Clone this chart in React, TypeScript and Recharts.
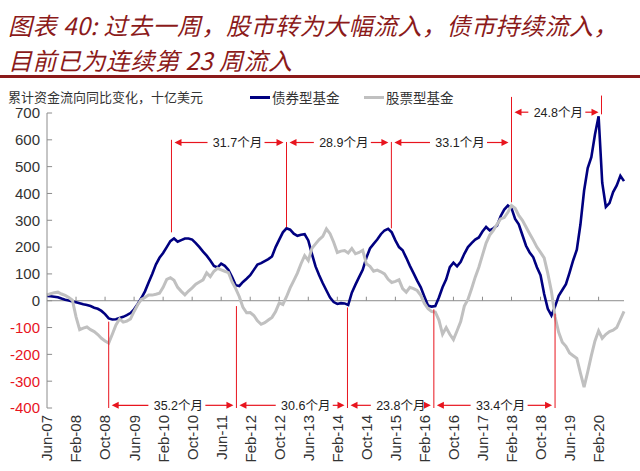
import React from "react";
import { LineChart, Line, XAxis, YAxis, ReferenceLine } from "recharts";

// 累计资金流向同比变化（十亿美元），按月读数，Jun-07 起
const bondValues = [
  18, 17, 15, 13, 8, 4, 1, -3, -6, -9,
  -13, -16, -20, -26, -30, -38, -50, -66, -70, -69,
  -64, -60, -54, -46, -32, -12, 10, 35, 68, 100,
  135, 160, 178, 200, 222, 232, 220, 226, 232, 232,
  228, 215, 200, 183, 168, 150, 130, 124, 138, 130,
  115, 88, 58, 55, 70, 82, 95, 115, 135, 140,
  148, 155, 165, 200, 228, 255, 270, 265, 250, 242,
  246, 248, 225, 175, 128, 95, 65, 38, 12, -5,
  -12, -9, -10, -16, 30, 60, 88, 115, 160, 195,
  212, 228, 248, 262, 268, 255, 225, 200, 188, 160,
  130, 103, 75, 50, 15, -18, -22, -20, 12, 50,
  80, 125, 142, 128, 145, 175, 200, 215, 228, 236,
  258, 275, 262, 270, 280, 315, 340, 355, 345, 305,
  285, 245, 205, 180, 162, 125, 95, 25, -30, -55,
  -22, 18, 40, 62, 105, 151, 190, 285, 410, 495,
  535, 620, 688, 440, 350, 364, 405, 430, 466, 446,
];

const equityValues = [
  22, 26, 30, 32, 25, 20, 12, 2, -60, -108,
  -102, -98, -108, -115, -126, -140, -150, -158, -125, -90,
  -68, -80, -76, -68, -40, -15, 5, 12, 21, 21,
  24, 28, 50, 80, 86, 76, 50, 35, 22, 36,
  48, 62, 70, 78, 104, 90, 110, 121, 115, 110,
  105, 70, 45, 15, -25, -45, -44, -55, -75, -88,
  -82, -72, -62, -40, -8, -14, 15, 48, 75, 103,
  138, 168, 150, 195, 212, 228, 240, 268, 250, 218,
  180, 185, 187, 178, 195, 175, 180, 188, 138, 128,
  110, 114, 108, 100, 80, 68, 72, 78, 45, 32,
  50, 45, 38, 20, -10, -30, -40, -42, -72, -125,
  -100, -125, -145, -112, -78, -20, 5, 45, 88, 125,
  170, 215, 245, 262, 285, 305, 310, 330, 355, 345,
  318, 300, 275, 250, 226, 200, 180, 160, 102, 35,
  -60, -118, -155, -170, -195, -205, -215, -270, -322, -265,
  -205, -150, -112, -140, -125, -115, -110, -100, -70, -40,
];

const tickMonths = [0, 8, 16, 24, 32, 40, 48, 56, 64, 72, 80, 88, 96, 104, 112, 120, 128, 136, 144, 152];
const tickLabels = [
  "Jun-07", "Feb-08", "Oct-08", "Jun-09", "Feb-10", "Oct-10", "Jun-11", "Feb-12", "Oct-12", "Jun-13",
  "Feb-14", "Oct-14", "Jun-15", "Feb-16", "Oct-16", "Jun-17", "Feb-18", "Oct-18", "Jun-19", "Feb-20",
];
const yTicks = [-400, -300, -200, -100, 0, 100, 200, 300, 400, 500, 600, 700];

const titleLines = ["图表 40: 过去一周，股市转为大幅流入，债市持续流入，", "目前已为连续第 23 周流入"];

// 标注：债券基金峰值 / 谷值之间的间隔（月）
const peakMarks = [
  { m: 34.3, top: 600, bottom: 255 },
  { m: 66, top: 592, bottom: 274 },
  { m: 94.9, top: 592, bottom: 270 },
  { m: 128, top: 760, bottom: 367 },
  { m: 152.8, top: 765, bottom: 695 },
];
const peakSpans = [
  { from: 34.3, to: 66, y: 590, label: "31.7个月", at: 52.5 },
  { from: 66, to: 94.9, y: 590, label: "28.9个月", at: 81.8 },
  { from: 94.9, to: 128, y: 590, label: "33.1个月", at: 113.8 },
  { from: 128, to: 152.8, y: 703, label: "24.8个月", at: 140.9 },
];
const troughMarks = [
  { m: 17, top: -78 },
  { m: 52.2, top: -20 },
  { m: 82.8, top: -25 },
  { m: 106.6, top: -32 },
  { m: 140, top: -48 },
];
const troughSpans = [
  { from: 17, to: 52.2, y: -390, label: "35.2个月", at: 36.2 },
  { from: 52.2, to: 82.8, y: -390, label: "30.6个月", at: 71.3 },
  { from: 82.8, to: 106.6, y: -390, label: "23.8个月", at: 97.5 },
  { from: 106.6, to: 140, y: -390, label: "33.4个月", at: 125 },
];

const data = bondValues.map((b, i) => ({ m: i, bond: b, equity: equityValues[i] }));

const RED = "#e8141e";
const AXIS = "#8c8c8c";
const FONT = '"Liberation Sans", Arial, "Noto Sans CJK SC", sans-serif';
const CJK = '"Noto Sans CJK SC", sans-serif';

function arrowShape(label: string, at: number, from: number, to: number) {
  return (p: any) => {
    const { x1, x2, y1 } = p;
    const tx = x1 + ((x2 - x1) * (at - from)) / (to - from);
    const half = 27;
    const ax = x1 + 3;
    const bx = x2 - 3;
    return (
      <g>
        <line x1={ax + 5} y1={y1} x2={tx - half - 3} y2={y1} stroke={RED} strokeWidth={1.2} />
        <line x1={tx + half} y1={y1} x2={bx - 5} y2={y1} stroke={RED} strokeWidth={1.2} />
        <polygon points={`${ax},${y1} ${ax + 7},${y1 - 3.5} ${ax + 7},${y1 + 3.5}`} fill={RED} />
        <polygon points={`${bx},${y1} ${bx - 7},${y1 - 3.5} ${bx - 7},${y1 + 3.5}`} fill={RED} />
        <text x={tx} y={y1} dy="0.36em" textAnchor="middle" fontSize={12.5} fill="#222" fontFamily={FONT}>
          {label}
        </text>
      </g>
    );
  };
}

const XTick = (props: any) => {
  const { x, y, payload } = props;
  const idx = tickMonths.indexOf(payload.value);
  return (
    <g transform={`translate(${x},${y})`}>
      <text transform="rotate(-90)" x={-5} y={0} dy="0.36em" textAnchor="end" fontSize={15} fill="#333" fontFamily={FONT}>
        {tickLabels[idx]}
      </text>
    </g>
  );
};

const YTick = (props: any) => {
  const { x, y, payload } = props;
  return (
    <text x={x} y={y} dy="0.36em" textAnchor="end" fontSize={15} fill={payload.value < 0 ? RED : "#333"} fontFamily={FONT}>
      {payload.value}
    </text>
  );
};

export default function App() {
  return (
    <div style={{ position: "absolute", left: 0, top: 0, width: 640, height: 471, background: "#fff", overflow: "hidden" }}>
      {titleLines.map((t, i) => (
        <div
          key={t}
          style={{
            position: "absolute",
            left: 8,
            top: 7 + i * 35,
            height: 35,
            fontFamily: CJK,
            fontStyle: "italic",
            fontSize: 24,
            letterSpacing: 0.5,
            lineHeight: "35px",
            color: "#8b1a1a",
            whiteSpace: "nowrap",
          }}
        >
          {t}
        </div>
      ))}
      <div style={{ position: "absolute", left: 0, top: 75, width: 640, height: 2.5, background: "#8b1a1a" }} />

      <div
        style={{
          position: "absolute",
          top: 88,
          left: 8,
          fontFamily: CJK,
          fontSize: 13,
          color: "#333",
          lineHeight: "18px",
          whiteSpace: "nowrap",
        }}
      >
        累计资金流向同比变化，十亿美元
      </div>
      <div style={{ position: "absolute", top: 96, left: 250, width: 20, height: 3, background: "#000080" }} />
      <div style={{ position: "absolute", top: 88, left: 272, fontFamily: CJK, fontSize: 13.5, color: "#333", lineHeight: "18px" }}>
        债券型基金
      </div>
      <div style={{ position: "absolute", top: 96, left: 364, width: 20, height: 3, background: "#c0c0c0" }} />
      <div style={{ position: "absolute", top: 88, left: 386, fontFamily: CJK, fontSize: 13.5, color: "#333", lineHeight: "18px" }}>
        股票型基金
      </div>

      <div style={{ position: "absolute", left: 0, top: 0 }}>
        <LineChart width={640} height={471} data={data} margin={{ top: 113, right: 16, bottom: 0, left: 0 }}>
          <XAxis
            dataKey="m"
            type="number"
            domain={[0, 159]}
            ticks={tickMonths}
            interval={0}
            axisLine={false}
            tickLine={false}
            tickSize={0}
            tick={<XTick />}
            height={63}
          />
          <YAxis
            type="number"
            domain={[-400, 700]}
            ticks={yTicks}
            interval={0}
            width={47}
            axisLine={{ stroke: AXIS }}
            tickLine={false}
            tickSize={0}
            tickMargin={7}
            tick={<YTick />}
          />
          <ReferenceLine y={0} stroke={AXIS} />
          {tickMonths.slice(1).map((t) => (
            <ReferenceLine key={`xt-${t}`} segment={[{ x: t, y: 0 }, { x: t, y: 15 }]} stroke={AXIS} />
          ))}
          {yTicks.map((v) => (
            <ReferenceLine key={`yt-${v}`} segment={[{ x: 0, y: v }, { x: 1.4, y: v }]} stroke={AXIS} />
          ))}
          <Line type="linear" dataKey="bond" stroke="#000080" strokeWidth={2.6} dot={false} isAnimationActive={false} />
          <Line type="linear" dataKey="equity" stroke="#c0c0c0" strokeWidth={3} dot={false} isAnimationActive={false} />
          {peakMarks.map((d) => (
            <ReferenceLine
              key={`pm-${d.m}`}
              segment={[{ x: d.m, y: d.bottom }, { x: d.m, y: d.top }]}
              stroke={RED}
              strokeWidth={1}
              ifOverflow="visible"
            />
          ))}
          {troughMarks.map((d) => (
            <ReferenceLine
              key={`tm-${d.m}`}
              segment={[{ x: d.m, y: -400 }, { x: d.m, y: d.top }]}
              stroke={RED}
              strokeWidth={1}
              ifOverflow="visible"
            />
          ))}
          {[...peakSpans, ...troughSpans].map((s) => (
            <ReferenceLine
              key={`sp-${s.label}`}
              segment={[{ x: s.from, y: s.y }, { x: s.to, y: s.y }]}
              ifOverflow="visible"
              shape={arrowShape(s.label, s.at, s.from, s.to)}
            />
          ))}
        </LineChart>
      </div>
    </div>
  );
}
